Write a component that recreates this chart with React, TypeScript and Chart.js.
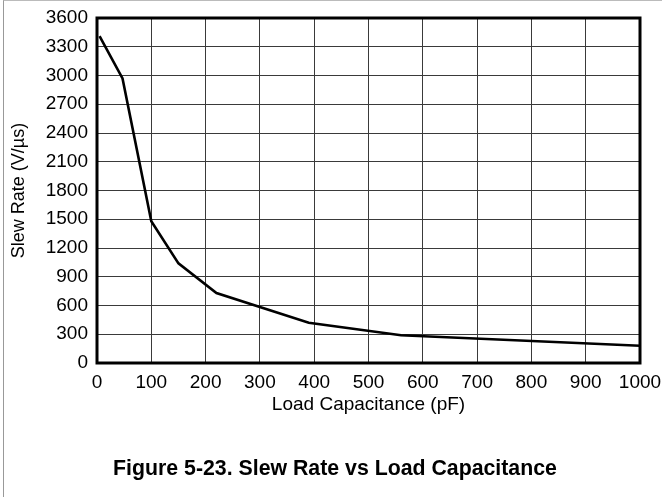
import { useEffect, useRef } from "react";
import { Chart, registerables } from "chart.js";

Chart.register(...registerables);

// Data
const capacitancePF = [4.7, 47, 100, 150, 220, 390, 560, 1000];
const slewRateVus = [3410, 2970, 1480, 1040, 730, 420, 290, 180];
const xTickValues = [0, 100, 200, 300, 400, 500, 600, 700, 800, 900, 1000];
const yTickValues = [0, 300, 600, 900, 1200, 1500, 1800, 2100, 2400, 2700, 3000, 3300, 3600];

const xAxisTitle = "Load Capacitance (pF)";
const yAxisTitle = "Slew Rate (V/µs)";
const figureCaption = "Figure 5-23. Slew Rate vs Load Capacitance";

const FONT = "'Liberation Sans', Arial, Helvetica, sans-serif";

const framePlugin = {
  id: "plotFrame",
  afterDatasetsDraw(chart: any) {
    const { ctx, chartArea: a } = chart;
    ctx.save();
    ctx.strokeStyle = "#000";
    ctx.lineWidth = 3;
    ctx.strokeRect(a.left, a.top, a.right - a.left, a.bottom - a.top);
    ctx.restore();
  },
};

export default function App() {
  const canvasRef = useRef<HTMLCanvasElement | null>(null);

  useEffect(() => {
    if (!canvasRef.current) return;
    const chart = new Chart(canvasRef.current, {
      type: "line",
      data: {
        datasets: [
          {
            data: capacitancePF.map((x, i) => ({ x, y: slewRateVus[i] })),
            borderColor: "#000",
            borderWidth: 2.6,
            pointRadius: 0,
            tension: 0,
            fill: false,
          },
        ],
      },
      options: {
        animation: false,
        responsive: false,
        devicePixelRatio: 1,
        layout: { padding: { left: 0, right: 22, top: 18, bottom: 80.4 } },
        plugins: {
          legend: { display: false },
          tooltip: { enabled: false },
          title: { display: false },
        },
        scales: {
          x: {
            type: "linear",
            min: 0,
            max: 1000,
            afterBuildTicks: (s: any) => {
              s.ticks = xTickValues.map((v) => ({ value: v }));
            },
            afterFit: (s: any) => {
              s.height = 53.6;
              s.paddingLeft = 0;
              s.paddingRight = 0;
            },
            ticks: {
              color: "#000",
              font: { family: FONT, size: 19 },
              padding: 8,
              maxRotation: 0,
              autoSkip: false,
              callback: (v: any) => String(v),
            },
            grid: { color: "#3a3a3a", lineWidth: 1, drawTicks: false },
            border: { display: false },
            title: {
              display: true,
              text: xAxisTitle,
              color: "#000",
              font: { family: FONT, size: 19 },
              padding: { top: 0, bottom: 0 },
            },
          },
          y: {
            type: "linear",
            min: 0,
            max: 3600,
            afterBuildTicks: (s: any) => {
              s.ticks = yTickValues.map((v) => ({ value: v }));
            },
            afterFit: (s: any) => {
              s.width = 97;
              s.paddingTop = 0;
              s.paddingBottom = 0;
            },
            ticks: {
              color: "#000",
              font: { family: FONT, size: 19 },
              padding: 9,
              autoSkip: false,
              callback: (v: any) => String(v),
            },
            grid: { color: "#3a3a3a", lineWidth: 1, drawTicks: false },
            border: { display: false },
            title: {
              display: true,
              text: yAxisTitle,
              color: "#000",
              font: { family: FONT, size: 18 },
              padding: { top: 8, bottom: 0 },
            },
          },
        },
      },
      plugins: [framePlugin],
    });
    return () => chart.destroy();
  }, []);

  return (
    <div
      style={{
        position: "fixed",
        left: 0,
        top: 0,
        width: 662,
        height: 497,
        overflow: "hidden",
        background: "#fff",
      }}
    >
      <div
        style={{
          position: "absolute",
          left: 3,
          top: 0,
          width: 700,
          height: 600,
          borderLeft: "1px solid #999",
          borderTop: "1px solid #bbb",
        }}
      />
      <canvas
        ref={canvasRef}
        width={662}
        height={497}
        style={{ position: "absolute", left: 0, top: 0, width: 662, height: 497 }}
      />
      <div
        style={{
          position: "absolute",
          left: 0,
          top: 455,
          width: 670,
          height: 26,
          lineHeight: "26px",
          textAlign: "center",
          fontFamily: FONT,
          fontSize: 21.3,
          fontWeight: "bold",
          color: "#000",
          whiteSpace: "nowrap",
        }}
      >
        {figureCaption}
      </div>
    </div>
  );
}
